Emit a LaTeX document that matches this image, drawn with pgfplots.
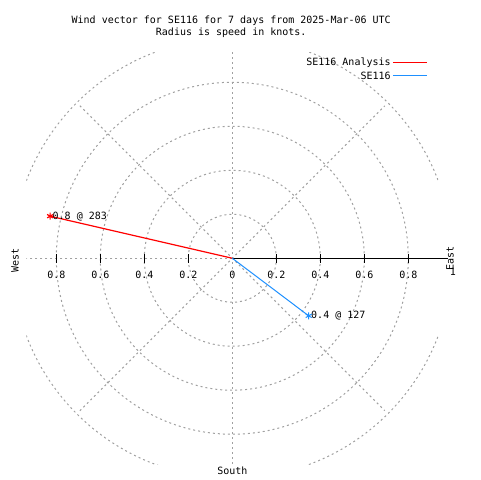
\documentclass[border=0pt]{standalone}
\usepackage{fontspec}
\setmainfont{DejaVu Sans Mono}
\usepackage{pgfplots}
\pgfplotsset{compat=1.18}
\definecolor{gridgray}{HTML}{A0A0A0}
\definecolor{dblue}{HTML}{1E90FF}
\begin{document}
\begin{tikzpicture}
\begin{axis}[x=165pt,y=165pt,
  xmin=-0.936,xmax=0.936,ymin=-0.936,ymax=0.936,
  hide axis, clip=false,
  font=\fontsize{7.5}{9}\selectfont]
% page extent (480x480 px)
\path (axis cs:-1.056,-1.008) rectangle (axis cs:1.126,1.174);
% tick labels
\foreach \xx/\lab in {-0.8/0.8,-0.6/0.6,-0.4/0.4,-0.2/0.2,0/0,0.2/0.2,0.4/0.4,0.6/0.6,0.8/0.8}{
  \edef\temp{\noexpand\node[inner sep=0pt] at (axis cs:\xx,-0.074) {\lab};}\temp
}
\node[inner sep=0pt] at (axis cs:1.003,-0.062) {1};
% grid
\begin{scope}
\clip (axis cs:-0.936,-0.936) rectangle (axis cs:0.936,0.936);
\begin{scope}[gridgray, line width=0.75pt, dash pattern=on 1.5pt off 2.25pt]
\draw (axis cs:0,0) circle[radius=0.2];
\draw (axis cs:0,0) circle[radius=0.4];
\draw (axis cs:0,0) circle[radius=0.6];
\draw (axis cs:0,0) circle[radius=0.8];
\draw (axis cs:0,0) circle[radius=1.0];
\draw (axis cs:0,0) -- (axis cs:-0.98,0);
\draw (axis cs:0,-0.98) -- (axis cs:0,0.98);
\draw (axis cs:-0.693,-0.693) -- (axis cs:0.693,0.693);
\draw (axis cs:-0.693,0.693) -- (axis cs:0.693,-0.693);
\end{scope}
\end{scope}
% r axis
\draw[black, line width=0.75pt] (axis cs:0,0) -- (axis cs:0.98,0);
\foreach \xx in {-0.8,-0.6,-0.4,-0.2,0.2,0.4,0.6,0.8}{
  \edef\temp{\noexpand\draw[black, line width=0.75pt] (axis cs:\xx,-0.02) -- (axis cs:\xx,0.02);}\temp
}
% direction labels
\node[rotate=90, inner sep=0pt] at (axis cs:-0.988,-0.012) {West};
\node[rotate=90, inner sep=0pt] at (axis cs:0.99,-0.003) {East};
\node[inner sep=0pt] at (axis cs:0,-0.967) {South};
% title
\node[inner sep=0pt] at (axis cs:-0.005,1.080) {Wind vector for SE116 for 7 days from 2025-Mar-06 UTC};
\node[inner sep=0pt] at (axis cs:-0.005,1.023) {Radius is speed in knots.};
% legend
\node[anchor=east, inner sep=0pt] at (axis cs:0.721,0.890) {SE116 Analysis};
\draw[red, line width=0.75pt] (axis cs:0.730,0.890) -- (axis cs:0.885,0.890);
\node[anchor=east, inner sep=0pt] at (axis cs:0.721,0.830) {SE116};
\draw[dblue, line width=0.75pt] (axis cs:0.730,0.830) -- (axis cs:0.885,0.830);
% data (angle in math degrees = 90 - compass direction, radius in knots)
\addplot[red, line width=0.9pt, data cs=polar, mark=asterisk, mark size=2.6pt, mark indices={2}]
  coordinates {(0,0) (167,0.85)} node[pos=1, anchor=west, inner sep=1.5pt, black] {0.8 @ 283};
\addplot[dblue, line width=0.75pt, data cs=polar, mark=asterisk, mark size=2.6pt, mark indices={2}]
  coordinates {(0,0) (-37,0.435)} node[pos=1, anchor=west, inner sep=1.5pt, black] {0.4 @ 127};
\end{axis}
\end{tikzpicture}
\end{document}
